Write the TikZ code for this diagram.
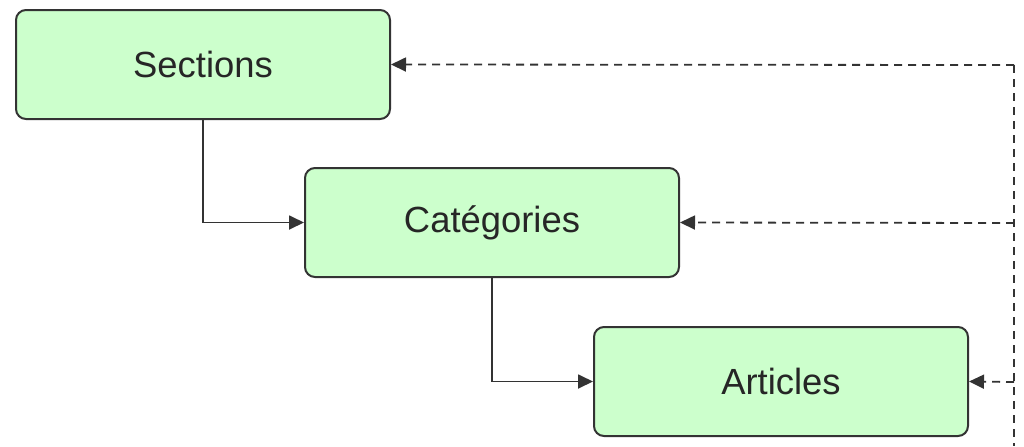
\documentclass[tikz,border=0pt]{standalone}
\usepackage{fontspec}
\setmainfont{Liberation Sans}
\usetikzlibrary{arrows.meta}
\definecolor{boxfill}{HTML}{CCFFCC}
\definecolor{edge}{HTML}{333333}
\begin{document}
\begin{tikzpicture}[x=0.5pt,y=-0.5pt,
  entity/.style={draw=edge,fill=boxfill,line width=1pt,rounded corners=5pt,
    minimum width=187pt,minimum height=54.5pt,inner sep=0pt,
    font=\fontsize{18.2pt}{22pt}\selectfont,text=black!85},
  link/.style={draw=edge,line width=0.9pt,-{Triangle[length=7.5pt,width=7pt]}},
  backlink/.style={draw=edge,line width=0.9pt,dash pattern=on 4pt off 3pt,-{Triangle[length=7.5pt,width=7pt]}},
  vline/.style={draw=edge,line width=0.9pt,dash pattern=on 4pt off 3pt}]
\useasboundingbox (0,0) rectangle (1024,446);
\node[entity] (sec) at (203,64.5) {Sections};
\node[entity] (cat) at (492,222.5) {Catégories};
\node[entity] (art) at (781,381.5) {Articles};
\coordinate (top) at (1014,65);
\coordinate (bot) at (1014,446);
\draw[link] (sec.south) |- (cat.west);
\draw[link] (cat.south) |- (art.west);
\draw[vline] (top) -- (bot);
\draw[backlink] (top) -- (sec.east);
\draw[backlink] (1014,223) -- (cat.east);
\draw[backlink] (1014,382) -- (art.east);
\end{tikzpicture}
\end{document}
